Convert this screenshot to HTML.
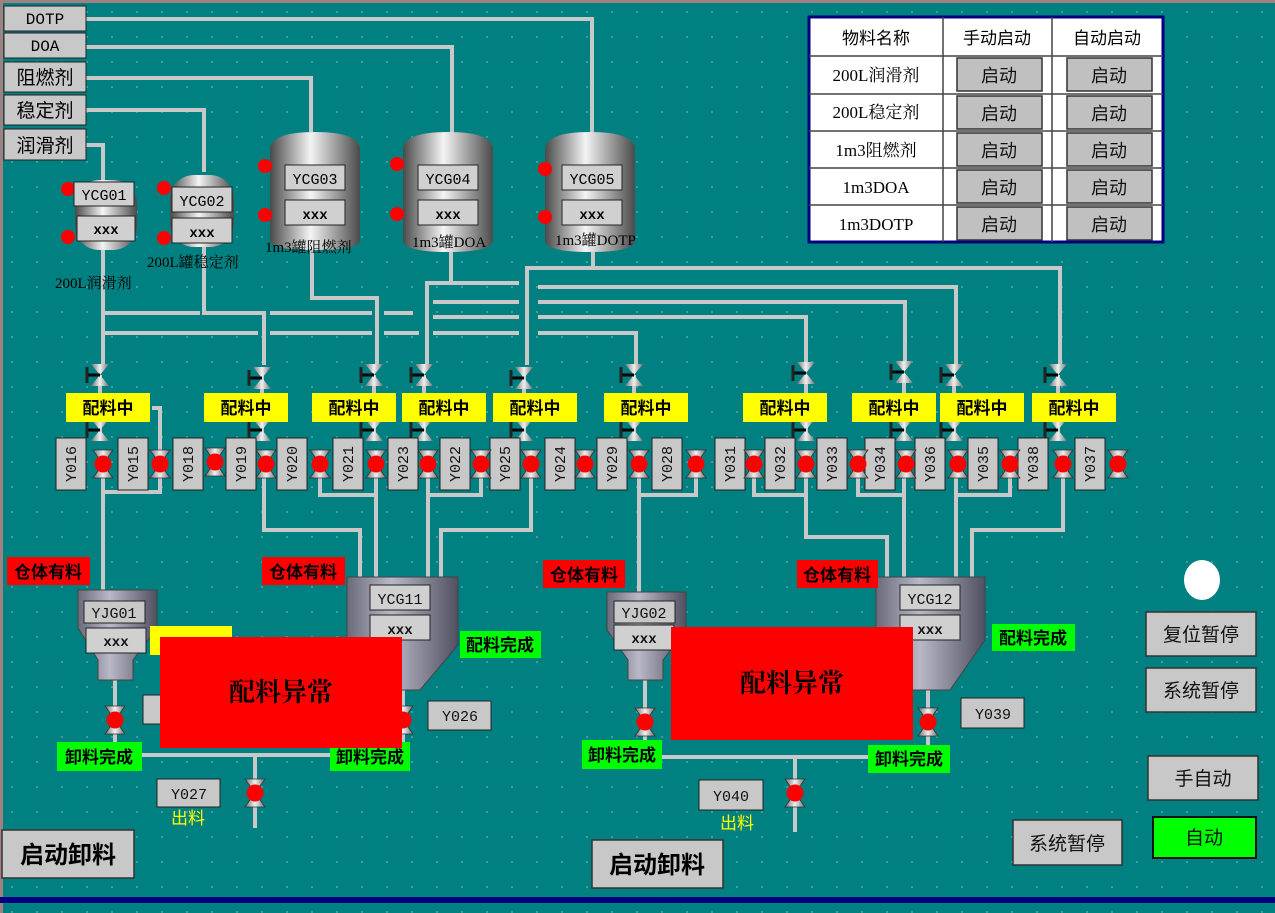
<!DOCTYPE html>
<html><head><meta charset="utf-8"><style>
html,body{margin:0;padding:0;background:#008080;}
svg{display:block;}
.t{font-family:"Liberation Mono","Noto Sans CJK SC",monospace;}
.c{font-family:"Liberation Sans","Noto Sans CJK SC",sans-serif;}
.s{font-family:"Liberation Serif","Noto Serif CJK SC",serif;}
.b{font-family:"Liberation Sans","Noto Sans CJK SC",sans-serif;font-weight:bold;}
</style></head><body>
<svg width="1275" height="913" viewBox="0 0 1275 913" xmlns="http://www.w3.org/2000/svg">
<defs>
<pattern id="dots" width="25" height="25" patternUnits="userSpaceOnUse"><circle cx="12" cy="12" r="1" fill="#4fa8a8"/></pattern>
<linearGradient id="tk" x1="0" x2="1" y1="0" y2="0"><stop offset="0" stop-color="#4a4a4a"/><stop offset="0.45" stop-color="#f4f4f4"/><stop offset="1" stop-color="#4a4a4a"/></linearGradient>
<linearGradient id="hp" x1="0" x2="1" y1="0" y2="0"><stop offset="0" stop-color="#6a6a7a"/><stop offset="0.4" stop-color="#b8b8c8"/><stop offset="1" stop-color="#505060"/></linearGradient>
<linearGradient id="vg" x1="0" x2="1"><stop offset="0" stop-color="#707070"/><stop offset="0.5" stop-color="#f0f0f0"/><stop offset="1" stop-color="#707070"/></linearGradient>
<g id="v"><polygon points="-10,-14 10,-14 0,0" fill="url(#vg)" stroke="#333" stroke-width="0.8"/><polygon points="-10,14 10,14 0,0" fill="url(#vg)" stroke="#333" stroke-width="0.8"/><circle r="8.5" fill="#f00"/></g>
<g id="h"><polygon points="-9,-11 9,-11 0,0" fill="url(#vg)"/><polygon points="-9,11 9,11 0,0" fill="url(#vg)"/><line x1="-13" y1="0" x2="0" y2="0" stroke="#000" stroke-width="3"/><line x1="-13" y1="-8" x2="-13" y2="8" stroke="#222" stroke-width="3"/></g>
</defs>
<rect width="1275" height="913" fill="#008080"/>
<rect width="1275" height="913" fill="url(#dots)"/>
<rect x="0" y="0" width="1275" height="3" fill="#a08080"/>
<rect x="0" y="0" width="3" height="913" fill="#a08080"/>
<rect x="0" y="897" width="1275" height="6" fill="#000080"/>

<g stroke="#c8c8c8" stroke-width="4" fill="none">
<polyline points="86,19 592,19 592,135"/>
<polyline points="86,47 452,47 452,133"/>
<polyline points="86,78 311,78 311,132"/>
<polyline points="86,110 204,110 204,172"/>
<polyline points="86,145 103,145 103,180"/>
<line x1="103" y1="250" x2="103" y2="365"/>
<polyline points="204,245 204,313 264,313 264,365"/>
<polyline points="312,250 312,298 377,298 377,365"/>
<polyline points="451,250 451,283 427,283 427,365"/>
<line x1="451" y1="283" x2="519" y2="283"/>
<polyline points="593,250 593,268 527,268 527,365"/>
<polyline points="593,268 1060,268 1060,365"/>
<polyline points="538,287 956,287 956,365"/>
<polyline points="538,302 905,302 905,365"/>
<polyline points="538,317 806,317 806,365"/>
<polyline points="538,333 636,333 636,365"/>
<line x1="103" y1="313" x2="200" y2="313"/><line x1="270" y1="313" x2="372" y2="313"/><line x1="384" y1="313" x2="413" y2="313"/>
<line x1="103" y1="333" x2="258" y2="333"/><line x1="270" y1="333" x2="372" y2="333"/><line x1="384" y1="333" x2="419" y2="333"/>
<line x1="433" y1="302" x2="519" y2="302"/><line x1="433" y1="317" x2="519" y2="317"/><line x1="433" y1="333" x2="519" y2="333"/>
<line x1="100" y1="375" x2="100" y2="440"/><line x1="262" y1="375" x2="262" y2="440"/><line x1="374" y1="375" x2="374" y2="440"/><line x1="424" y1="375" x2="424" y2="440"/><line x1="524" y1="375" x2="524" y2="440"/><line x1="634" y1="375" x2="634" y2="440"/><line x1="806" y1="375" x2="806" y2="440"/><line x1="904" y1="375" x2="904" y2="440"/><line x1="954" y1="375" x2="954" y2="440"/><line x1="1058" y1="375" x2="1058" y2="440"/>
<polyline points="152,408 160,408 160,455"/>
<polyline points="103,475 103,590"/>
<polyline points="160,475 160,492 103,492"/>
<polyline points="264,475 264,530 360,530 360,578"/>
<polyline points="320,475 320,495 376,495"/>
<polyline points="376,475 376,578"/>
<polyline points="428,475 428,578"/>
<polyline points="531,475 531,530 441,530 441,578"/>
<polyline points="481,475 481,495 428,495"/>
<polyline points="639,475 639,592"/>
<polyline points="696,475 696,495 639,495"/>
<polyline points="806,475 806,537 887,537 887,578"/>
<polyline points="754,475 754,495 806,495"/>
<polyline points="904,475 904,578"/>
<polyline points="956,475 956,578"/>
<polyline points="1063,475 1063,530 972,530 972,578"/>
<polyline points="1010,475 1010,495 956,495"/>
<polyline points="858,475 858,495 904,495"/>
<polyline points="115,680 115,755 160,755"/>
<polyline points="142,755 330,755"/>
<polyline points="403,690 403,755 330,755"/>
<line x1="255" y1="755" x2="255" y2="828"/>
<polyline points="645,680 645,757 868,757"/>
<polyline points="928,690 928,757"/>
<line x1="795" y1="757" x2="795" y2="832"/>
</g>

<g class="t" font-size="16" text-anchor="middle">
<rect x="4" y="6" width="82" height="25" fill="#c8c8c8" stroke="#222"/><text x="45" y="24">DOTP</text>
<rect x="4" y="33" width="82" height="25" fill="#c8c8c8" stroke="#222"/><text x="45" y="51">DOA</text>
</g>
<g class="c" font-size="19" text-anchor="middle">
<rect x="4" y="62" width="82" height="30" fill="#c8c8c8" stroke="#222"/><text x="45" y="84">阻燃剂</text>
<rect x="4" y="95" width="82" height="30" fill="#c8c8c8" stroke="#222"/><text x="45" y="117">稳定剂</text>
<rect x="4" y="129" width="82" height="31" fill="#c8c8c8" stroke="#222"/><text x="45" y="152">润滑剂</text>
</g>

<g>
<rect x="75" y="180" width="62" height="70" rx="24" fill="url(#tk)"/>
<rect x="170" y="175" width="64" height="72" rx="24" fill="url(#tk)"/>
<path d="M270,150 Q270,132 315,132 Q360,132 360,150 L360,240 Q360,250 315,250 Q270,250 270,240Z" fill="url(#tk)"/>
<path d="M403,150 Q403,132 448,132 Q493,132 493,150 L493,240 Q493,252 448,252 Q403,252 403,240Z" fill="url(#tk)"/>
<path d="M545,150 Q545,132 590,132 Q635,132 635,150 L635,240 Q635,252 590,252 Q545,252 545,240Z" fill="url(#tk)"/>
</g>
<g fill="#f00">
<circle cx="68" cy="189" r="7"/><circle cx="68" cy="237" r="7"/>
<circle cx="164" cy="188" r="7"/><circle cx="164" cy="238" r="7"/>
<circle cx="265" cy="166" r="7"/><circle cx="265" cy="215" r="7"/>
<circle cx="397" cy="164" r="7"/><circle cx="397" cy="214" r="7"/>
<circle cx="545" cy="169" r="7"/><circle cx="545" cy="217" r="7"/>
</g>
<g class="t" font-size="15" text-anchor="middle" fill="#000">
<rect x="74" y="182" width="60" height="24" fill="#d0d0d0" stroke="#222"/><text x="104" y="200">YCG01</text>
<rect x="77" y="216" width="58" height="25" fill="#d0d0d0" stroke="#222"/><text x="106" y="234" font-weight="bold" font-size="14">xxx</text>
<rect x="172" y="187" width="60" height="25" fill="#d0d0d0" stroke="#222"/><text x="202" y="206">YCG02</text>
<rect x="172" y="218" width="60" height="25" fill="#d0d0d0" stroke="#222"/><text x="202" y="237" font-weight="bold" font-size="14">xxx</text>
<rect x="285" y="165" width="60" height="25" fill="#d0d0d0" stroke="#222"/><text x="315" y="184">YCG03</text>
<rect x="285" y="200" width="60" height="25" fill="#d0d0d0" stroke="#222"/><text x="315" y="219" font-weight="bold" font-size="14">xxx</text>
<rect x="418" y="165" width="60" height="25" fill="#d0d0d0" stroke="#222"/><text x="448" y="184">YCG04</text>
<rect x="418" y="200" width="60" height="25" fill="#d0d0d0" stroke="#222"/><text x="448" y="219" font-weight="bold" font-size="14">xxx</text>
<rect x="562" y="165" width="60" height="25" fill="#d0d0d0" stroke="#222"/><text x="592" y="184">YCG05</text>
<rect x="562" y="200" width="60" height="25" fill="#d0d0d0" stroke="#222"/><text x="592" y="219" font-weight="bold" font-size="14">xxx</text>
</g>
<g class="s" font-size="15" fill="#000">
<text x="55" y="288">200L润滑剂</text>
<text x="147" y="267">200L罐稳定剂</text>
<text x="265" y="252">1m3罐阻燃剂</text>
<text x="412" y="247">1m3罐DOA</text>
<text x="555" y="245">1m3罐DOTP</text>
</g>

<rect x="809" y="17" width="354" height="225" fill="#fff" stroke="#000080" stroke-width="3"/>
<g stroke="#444" stroke-width="1.5">
<line x1="943" y1="17" x2="943" y2="242"/><line x1="1052" y1="17" x2="1052" y2="242"/>
<line x1="809" y1="56" x2="1163" y2="56"/><line x1="809" y1="94" x2="1163" y2="94"/><line x1="809" y1="131" x2="1163" y2="131"/><line x1="809" y1="168" x2="1163" y2="168"/><line x1="809" y1="205" x2="1163" y2="205"/>
</g>
<g class="c" font-size="17" text-anchor="middle" fill="#000">
<text x="876" y="44">物料名称</text><text x="997" y="44">手动启动</text><text x="1107" y="44">自动启动</text>
</g>
<g class="s" font-size="17" text-anchor="middle">
<text x="876" y="81">200L润滑剂</text><text x="876" y="118">200L稳定剂</text><text x="876" y="156">1m3阻燃剂</text><text x="876" y="193">1m3DOA</text><text x="876" y="230">1m3DOTP</text>
</g>
<g fill="#c0c0c0" stroke="#333" stroke-width="1.5">
<rect x="957" y="58" width="85" height="33"/><rect x="1067" y="58" width="85" height="33"/>
<rect x="957" y="96" width="85" height="33"/><rect x="1067" y="96" width="85" height="33"/>
<rect x="957" y="133" width="85" height="33"/><rect x="1067" y="133" width="85" height="33"/>
<rect x="957" y="170" width="85" height="33"/><rect x="1067" y="170" width="85" height="33"/>
<rect x="957" y="207" width="85" height="33"/><rect x="1067" y="207" width="85" height="33"/>
</g>
<g class="c" font-size="18" text-anchor="middle" fill="#111">
<text x="999" y="82">启动</text><text x="1109" y="82">启动</text>
<text x="999" y="120">启动</text><text x="1109" y="120">启动</text>
<text x="999" y="157">启动</text><text x="1109" y="157">启动</text>
<text x="999" y="194">启动</text><text x="1109" y="194">启动</text>
<text x="999" y="231">启动</text><text x="1109" y="231">启动</text>
</g>

<g>
<use href="#h" x="100" y="375"/><use href="#h" x="262" y="378"/><use href="#h" x="374" y="375"/><use href="#h" x="424" y="375"/><use href="#h" x="524" y="378"/><use href="#h" x="634" y="375"/><use href="#h" x="806" y="373"/><use href="#h" x="904" y="372"/><use href="#h" x="954" y="375"/><use href="#h" x="1058" y="375"/>
<use href="#h" x="100" y="430"/><use href="#h" x="262" y="430"/><use href="#h" x="374" y="430"/><use href="#h" x="424" y="430"/><use href="#h" x="524" y="430"/><use href="#h" x="634" y="430"/><use href="#h" x="806" y="430"/><use href="#h" x="904" y="430"/><use href="#h" x="954" y="430"/><use href="#h" x="1058" y="430"/>
</g>
<g fill="#ff0">
<rect x="66" y="393" width="84" height="29"/><rect x="204" y="393" width="84" height="29"/><rect x="312" y="393" width="84" height="29"/><rect x="402" y="393" width="84" height="29"/><rect x="493" y="393" width="84" height="29"/><rect x="604" y="393" width="84" height="29"/><rect x="743" y="393" width="84" height="29"/><rect x="852" y="393" width="84" height="29"/><rect x="940" y="393" width="84" height="29"/><rect x="1032" y="393" width="84" height="29"/>
</g>
<g class="b" font-size="17" text-anchor="middle" fill="#000">
<text x="108" y="414">配料中</text><text x="246" y="414">配料中</text><text x="354" y="414">配料中</text><text x="444" y="414">配料中</text><text x="535" y="414">配料中</text><text x="646" y="414">配料中</text><text x="785" y="414">配料中</text><text x="894" y="414">配料中</text><text x="982" y="414">配料中</text><text x="1074" y="414">配料中</text>
</g>

<g fill="#c8c8c8" stroke="#222">
<rect x="56" y="438" width="30" height="52"/><rect x="118" y="438" width="30" height="52"/><rect x="173" y="438" width="30" height="52"/><rect x="226" y="438" width="30" height="52"/><rect x="277" y="438" width="30" height="52"/><rect x="333" y="438" width="30" height="52"/><rect x="388" y="438" width="30" height="52"/><rect x="440" y="438" width="30" height="52"/><rect x="490" y="438" width="30" height="52"/><rect x="545" y="438" width="30" height="52"/><rect x="597" y="438" width="30" height="52"/><rect x="652" y="438" width="30" height="52"/><rect x="715" y="438" width="30" height="52"/><rect x="765" y="438" width="30" height="52"/><rect x="817" y="438" width="30" height="52"/><rect x="865" y="438" width="30" height="52"/><rect x="915" y="438" width="30" height="52"/><rect x="968" y="438" width="30" height="52"/><rect x="1018" y="438" width="30" height="52"/><rect x="1075" y="438" width="30" height="52"/>
</g>
<g class="t" font-size="15" text-anchor="middle" fill="#111">
<text transform="translate(76,464) rotate(-90)">Y016</text><text transform="translate(138,464) rotate(-90)">Y015</text><text transform="translate(193,464) rotate(-90)">Y018</text><text transform="translate(246,464) rotate(-90)">Y019</text><text transform="translate(297,464) rotate(-90)">Y020</text><text transform="translate(353,464) rotate(-90)">Y021</text><text transform="translate(408,464) rotate(-90)">Y023</text><text transform="translate(460,464) rotate(-90)">Y022</text><text transform="translate(510,464) rotate(-90)">Y025</text><text transform="translate(565,464) rotate(-90)">Y024</text><text transform="translate(617,464) rotate(-90)">Y029</text><text transform="translate(672,464) rotate(-90)">Y028</text><text transform="translate(735,464) rotate(-90)">Y031</text><text transform="translate(785,464) rotate(-90)">Y032</text><text transform="translate(837,464) rotate(-90)">Y033</text><text transform="translate(885,464) rotate(-90)">Y034</text><text transform="translate(935,464) rotate(-90)">Y036</text><text transform="translate(988,464) rotate(-90)">Y035</text><text transform="translate(1038,464) rotate(-90)">Y038</text><text transform="translate(1095,464) rotate(-90)">Y037</text>
</g>
<g>
<use href="#v" x="103" y="464"/><use href="#v" x="160" y="464"/><use href="#v" x="215" y="462"/><use href="#v" x="266" y="464"/><use href="#v" x="320" y="464"/><use href="#v" x="376" y="464"/><use href="#v" x="428" y="464"/><use href="#v" x="481" y="464"/><use href="#v" x="531" y="464"/><use href="#v" x="585" y="464"/><use href="#v" x="639" y="464"/><use href="#v" x="696" y="464"/><use href="#v" x="754" y="464"/><use href="#v" x="806" y="464"/><use href="#v" x="858" y="464"/><use href="#v" x="906" y="464"/><use href="#v" x="958" y="464"/><use href="#v" x="1010" y="464"/><use href="#v" x="1063" y="464"/><use href="#v" x="1118" y="464"/>
</g>

<path d="M78,590 L157,590 L157,628 L133,660 L133,680 L98,680 L98,660 L78,628Z" fill="url(#hp)" stroke="#444"/>
<path d="M347,577 L458,577 L458,645 L420,690 L385,690 L347,645Z" fill="url(#hp)" stroke="#444"/>
<path d="M607,592 L686,592 L686,630 L663,660 L663,680 L628,680 L628,660 L607,630Z" fill="url(#hp)" stroke="#444"/>
<path d="M876,577 L985,577 L985,640 L950,690 L912,690 L876,640Z" fill="url(#hp)" stroke="#444"/>
<g class="t" font-size="15" text-anchor="middle" fill="#111">
<rect x="84" y="601" width="61" height="22" fill="#c8c8c8" stroke="#222"/><text x="114" y="618">YJG01</text>
<rect x="86" y="628" width="60" height="25" fill="#d0d0d0" stroke="#222"/><text x="116" y="646" font-weight="bold" font-size="14">xxx</text>
<rect x="370" y="585" width="60" height="25" fill="#d0d0d0" stroke="#222"/><text x="400" y="604">YCG11</text>
<rect x="370" y="615" width="60" height="25" fill="#d0d0d0" stroke="#222"/><text x="400" y="634" font-weight="bold" font-size="14">xxx</text>
<rect x="614" y="601" width="61" height="22" fill="#c8c8c8" stroke="#222"/><text x="644" y="618">YJG02</text>
<rect x="614" y="625" width="60" height="25" fill="#d0d0d0" stroke="#222"/><text x="644" y="643" font-weight="bold" font-size="14">xxx</text>
<rect x="900" y="585" width="60" height="25" fill="#d0d0d0" stroke="#222"/><text x="930" y="604">YCG12</text>
<rect x="900" y="615" width="60" height="25" fill="#d0d0d0" stroke="#222"/><text x="930" y="634" font-weight="bold" font-size="14">xxx</text>
</g>

<g fill="#f00"><rect x="7" y="557" width="83" height="28"/><rect x="262" y="557" width="83" height="28"/><rect x="543" y="560" width="82" height="28"/><rect x="797" y="560" width="81" height="28"/></g>
<g class="b" font-size="17" text-anchor="middle" fill="#000">
<text x="48" y="578">仓体有料</text><text x="303" y="578">仓体有料</text><text x="584" y="581">仓体有料</text><text x="837" y="581">仓体有料</text>
</g>
<rect x="150" y="626" width="82" height="29" fill="#ff0"/>
<g fill="#0f0"><rect x="460" y="631" width="81" height="27"/><rect x="992" y="624" width="83" height="27"/><rect x="57" y="742" width="85" height="29"/><rect x="330" y="742" width="80" height="29"/><rect x="582" y="740" width="80" height="29"/><rect x="868" y="745" width="82" height="28"/></g>
<g class="b" font-size="17" text-anchor="middle" fill="#000">
<text x="500" y="651">配料完成</text><text x="1033" y="644">配料完成</text><text x="99" y="763">卸料完成</text><text x="370" y="763">卸料完成</text><text x="622" y="761">卸料完成</text><text x="909" y="765">卸料完成</text>
</g>
<rect x="143" y="695" width="20" height="29" fill="#c8c8c8" stroke="#222"/>
<use href="#v" x="115" y="720"/><use href="#v" x="403" y="720"/><use href="#v" x="255" y="793"/><use href="#v" x="645" y="722"/><use href="#v" x="928" y="722"/><use href="#v" x="795" y="793"/>
<rect x="160" y="637" width="242" height="111" fill="#f00"/>
<rect x="671" y="627" width="242" height="113" fill="#f00"/>
<g class="s" font-size="26" text-anchor="middle" fill="#000" font-weight="bold">
<text x="281" y="701">配料异常</text><text x="792" y="692">配料异常</text>
</g>
<g class="t" font-size="15" text-anchor="middle" fill="#111">
<rect x="428" y="701" width="63" height="29" fill="#c8c8c8" stroke="#222"/><text x="460" y="721">Y026</text>
<rect x="157" y="779" width="63" height="28" fill="#c8c8c8" stroke="#222"/><text x="189" y="799">Y027</text>
<rect x="961" y="698" width="63" height="30" fill="#c8c8c8" stroke="#222"/><text x="993" y="719">Y039</text>
<rect x="699" y="780" width="64" height="30" fill="#c8c8c8" stroke="#222"/><text x="731" y="801">Y040</text>
</g>
<g class="c" font-size="17" fill="#ff0" text-anchor="middle"><text x="188" y="824">出料</text><text x="737" y="829">出料</text></g>

<g fill="#c8c8c8" stroke="#333" stroke-width="1.5">
<rect x="2" y="830" width="132" height="48"/><rect x="592" y="840" width="131" height="48"/>
<rect x="1146" y="612" width="110" height="44"/><rect x="1146" y="668" width="110" height="44"/><rect x="1148" y="756" width="110" height="44"/><rect x="1013" y="820" width="109" height="45"/>
</g>
<rect x="1153" y="817" width="103" height="41" fill="#0f0" stroke="#111" stroke-width="2"/>
<ellipse cx="1202" cy="580" rx="18" ry="20" fill="#fff"/>
<g class="c" font-size="24" text-anchor="middle" fill="#000" font-weight="bold">
<text x="68" y="863">启动卸料</text><text x="657" y="873">启动卸料</text>
</g>
<g class="c" font-size="19" text-anchor="middle" fill="#111">
<text x="1201" y="641">复位暂停</text><text x="1201" y="697">系统暂停</text><text x="1203" y="785">手自动</text><text x="1067" y="850">系统暂停</text><text x="1204" y="844">自动</text>
</g>
</svg>
</body></html>
